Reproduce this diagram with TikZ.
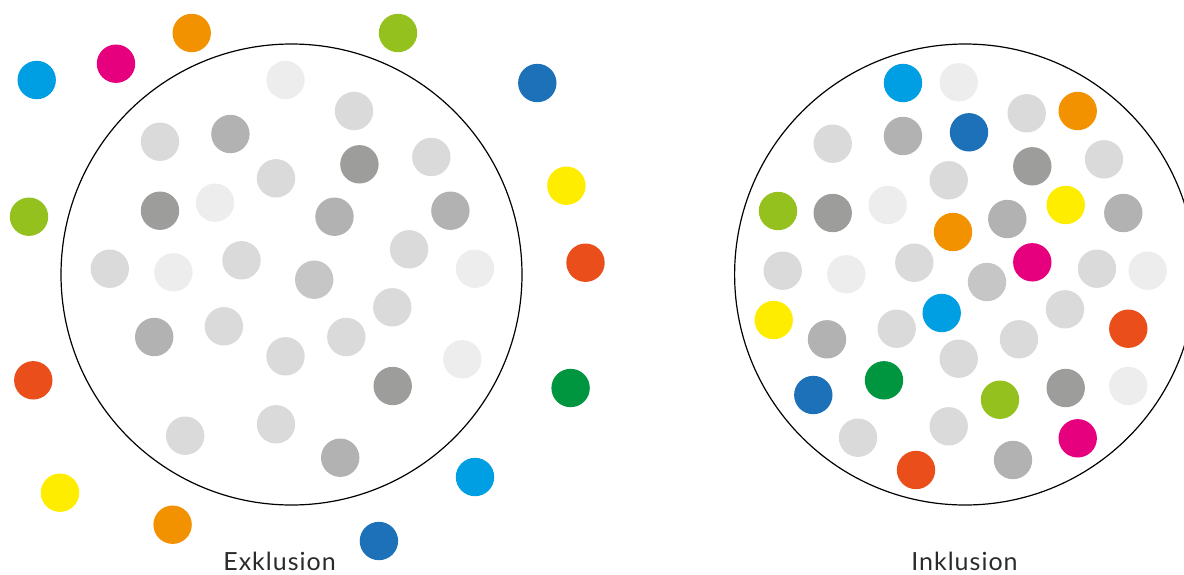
\documentclass[tikz,border=0pt]{standalone}
\usepackage{fontspec}
\setmainfont{Lato}
\definecolor{cCyan}{HTML}{009FE3}
\definecolor{cMag}{HTML}{E6007E}
\definecolor{cOra}{HTML}{F39200}
\definecolor{cLime}{HTML}{95C11F}
\definecolor{cBlue}{HTML}{1D71B8}
\definecolor{cYel}{HTML}{FFED00}
\definecolor{cRed}{HTML}{E94E1B}
\definecolor{cGreen}{HTML}{009640}
\definecolor{gA}{HTML}{EDEDED}
\definecolor{gB}{HTML}{DADADA}
\definecolor{gC}{HTML}{C6C6C6}
\definecolor{gD}{HTML}{B2B2B2}
\definecolor{gE}{HTML}{9D9D9C}
\definecolor{txt}{HTML}{2B2B2B}
\tikzset{
  dot/.style={circle, draw=none, inner sep=0pt, minimum size=38.4pt},
  ring/.style={circle, draw=black, line width=1.2pt, inner sep=0pt, minimum size=461pt},
  caption/.style={text=txt, font=\fontsize{25}{28}\selectfont\addfontfeature{LetterSpace=4}, inner sep=0pt, text depth=0pt, anchor=base}
}
\begin{document}
\begin{tikzpicture}[x=1pt, y=-1pt]
\useasboundingbox (0,0) rectangle (1184,574);
% rings
\node[ring] (ringL) at (291.5,274.5) {};
\node[ring] (ringR) at (965.1,274.5) {};
% left: outside coloured dots
\foreach \x/\y/\c [count=\i] in {
 36.7/80/cCyan, 116/63.7/cMag, 191.7/33/cOra, 398/33/cLime, 537.3/83/cBlue,
 566.4/185.7/cYel, 29/216.7/cLime, 585.5/262.7/cRed, 33.3/380.3/cRed,
 570.6/388/cGreen, 475/477/cCyan, 60/492.7/cYel, 172.6/524.7/cOra, 378.9/541/cBlue}
 \node[dot, fill=\c] (lo\i) at (\x,\y) {};
% left: inside grey dots
\foreach \x/\y/\c [count=\i] in {
 285.5/80/gA, 354/111/gB, 160/141.7/gB, 230.4/134/gD, 359.4/164.3/gE,
 431.3/157/gB, 276/178.3/gB, 160/210.7/gE, 215/202.7/gA, 334.5/216.7/gD,
 450.4/210.7/gD, 109.8/268.7/gB, 173.4/272.3/gA, 241.5/260.3/gB, 314.2/279.7/gC,
 409.1/249.3/gB, 475/268.7/gA, 392.3/307.3/gB, 154.2/337/gD, 223.9/326.3/gB,
 285.5/356.3/gB, 346.3/337/gB, 462.3/359.3/gA, 392.7/386/gE, 185.2/435.7/gB,
 276/424.3/gB, 340.2/457.7/gD}
 \node[dot, fill=\c] (li\i) at (\x,\y) {};
% right: all dots inside
\foreach \x/\y/\c [count=\i] in {
 903/83/cCyan, 958.7/82.3/gA, 1026.7/113.3/gB, 1077.7/111/cOra,
 832.7/143.7/gB, 903/136/gD, 969/132.3/cBlue, 1032.3/166.3/gE, 1104/159.3/gB,
 948.7/180.3/gB, 778/211/cLime, 832.7/213/gE, 887.7/205/gA, 953/232/cOra,
 1007.3/219/gD, 1065.7/205/cYel, 1123.3/213/gD,
 782.7/270.7/gB, 846.3/274.3/gA, 914.3/262.7/gB, 987/282/gC, 1032.3/262.3/cMag,
 1097/268.7/gB, 1147.7/270.7/gA,
 773.7/320/cYel, 827/339.3/gD, 896.7/328.7/gB, 941.7/313/cCyan, 1065/309.3/gB,
 1128.3/328.7/cRed, 958.7/358.7/gB, 1019/339.3/gB,
 813.3/395/cBlue, 884/380.3/cGreen, 1000/399.7/cLime, 1065.7/388/gE, 1128.3/386/gA,
 858/437.7/gB, 948.7/426.3/gB, 1077.7/438.3/cMag, 916/470/cRed, 1013/460/gD}
 \node[dot, fill=\c] (r\i) at (\x,\y) {};
% captions
\node[caption] (capL) at (279.5,570.5) {Exklusion};
\node[caption] (capR) at (964.5,570.5) {Inklusion};
\end{tikzpicture}
\end{document}
